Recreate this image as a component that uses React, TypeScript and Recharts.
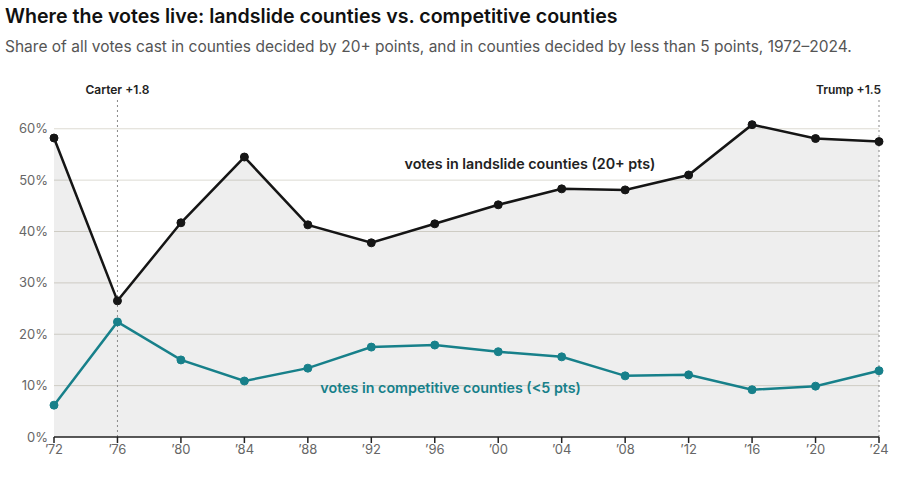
import { ComposedChart, Area, Line, XAxis, YAxis, CartesianGrid, ReferenceLine, ReferenceDot } from "recharts";

const years = [1972, 1976, 1980, 1984, 1988, 1992, 1996, 2000, 2004, 2008, 2012, 2016, 2020, 2024];
const landslide = [58.2, 26.5, 41.7, 54.5, 41.3, 37.8, 41.5, 45.2, 48.3, 48.1, 51.0, 60.8, 58.1, 57.5];
const competitive = [6.2, 22.4, 15.0, 10.9, 13.4, 17.5, 17.9, 16.6, 15.6, 11.9, 12.1, 9.2, 9.9, 12.9];
const yTicks = [0, 10, 20, 30, 40, 50, 60];
const gridValues = [10, 20, 30, 40, 50, 60];

const TEAL = "#17808a";
const FONT = "Inter, 'Noto Sans', sans-serif";

const data = years.map((year, i) => ({ year, landslide: landslide[i], competitive: competitive[i] }));

function MarkerLabel({ viewBox, text, anchor }: any) {
  const x = anchor === "end" ? viewBox.x + 2 : viewBox.x;
  return (
    <text x={x} y={viewBox.y - 6} textAnchor={anchor} fontSize={12} fontWeight={600} fill="#222" fontFamily={FONT}>
      {text}
    </text>
  );
}

function SeriesLabel({ viewBox, text, color }: any) {
  return (
    <text x={viewBox.x} y={viewBox.y} textAnchor="middle" dominantBaseline="middle" fontSize={14.3} fontWeight={600} fill={color} fontFamily={FONT}>
      {text}
    </text>
  );
}

export default function App() {
  return (
    <div style={{ position: "absolute", left: 0, top: 0, width: 900, height: 481, background: "#fff", fontFamily: FONT }}>
      <div style={{ position: "absolute", left: 5, top: 4, fontSize: 19.6, fontWeight: 600, color: "#111", whiteSpace: "nowrap" }}>
        Where the votes live: landslide counties vs. competitive counties
      </div>
      <div style={{ position: "absolute", left: 5, top: 37, fontSize: 15.5, color: "#555", whiteSpace: "nowrap" }}>
        Share of all votes cast in counties decided by 20+ points, and in counties decided by less than 5 points, 1972–2024.
      </div>
      <div style={{ position: "absolute", left: 0, top: 0 }}>
        <ComposedChart width={900} height={481} data={data} margin={{ top: 100, right: 21, bottom: 14, left: 4 }}>
          <CartesianGrid vertical={false} stroke="#dddbd3" horizontalValues={gridValues} />
          <XAxis
            dataKey="year"
            type="number"
            domain={[1972, 2024]}
            ticks={years}
            tickFormatter={(v) => "\u2019" + String(v).slice(2)}
            axisLine={{ stroke: "#222", strokeWidth: 1.5 }}
            tickLine={{ stroke: "#222", strokeWidth: 1.5 }}
            tickSize={6}
            height={30}
            tick={{ fontSize: 13, fill: "#666", fontFamily: FONT }}
          />
          <YAxis
            domain={[0, 65.6]}
            ticks={yTicks}
            tickFormatter={(v) => v + "%"}
            axisLine={false}
            tickLine={false}
            tickSize={0}
            tickMargin={6}
            width={50}
            tick={{ fontSize: 13, fill: "#666", fontFamily: FONT }}
          />
          <Area
            type="linear"
            dataKey="landslide"
            stroke="none"
            fill="#000"
            fillOpacity={0.065}
            isAnimationActive={false}
            dot={false}
            activeDot={false}
          />
          <ReferenceLine x={1976} stroke="#888" strokeDasharray="2 3" label={<MarkerLabel text="Carter +1.8" anchor="middle" />} />
          <ReferenceLine x={2024} stroke="#888" strokeDasharray="2 3" label={<MarkerLabel text="Trump +1.5" anchor="end" />} />
          <Line
            type="linear"
            dataKey="competitive"
            stroke={TEAL}
            strokeWidth={2.5}
            dot={{ r: 4, fill: TEAL, stroke: TEAL, strokeWidth: 1 }}
            activeDot={false}
            isAnimationActive={false}
          />
          <Line
            type="linear"
            dataKey="landslide"
            stroke="#151515"
            strokeWidth={2.5}
            dot={{ r: 4, fill: "#151515", stroke: "#151515", strokeWidth: 1 }}
            activeDot={false}
            isAnimationActive={false}
          />
          <ReferenceDot x={2002} y={53} r={0} stroke="none" label={<SeriesLabel text="votes in landslide counties (20+ pts)" color="#222" />} />
          <ReferenceDot x={1997} y={9.4} r={0} stroke="none" label={<SeriesLabel text="votes in competitive counties (<5 pts)" color={TEAL} />} />
        </ComposedChart>
      </div>
    </div>
  );
}
